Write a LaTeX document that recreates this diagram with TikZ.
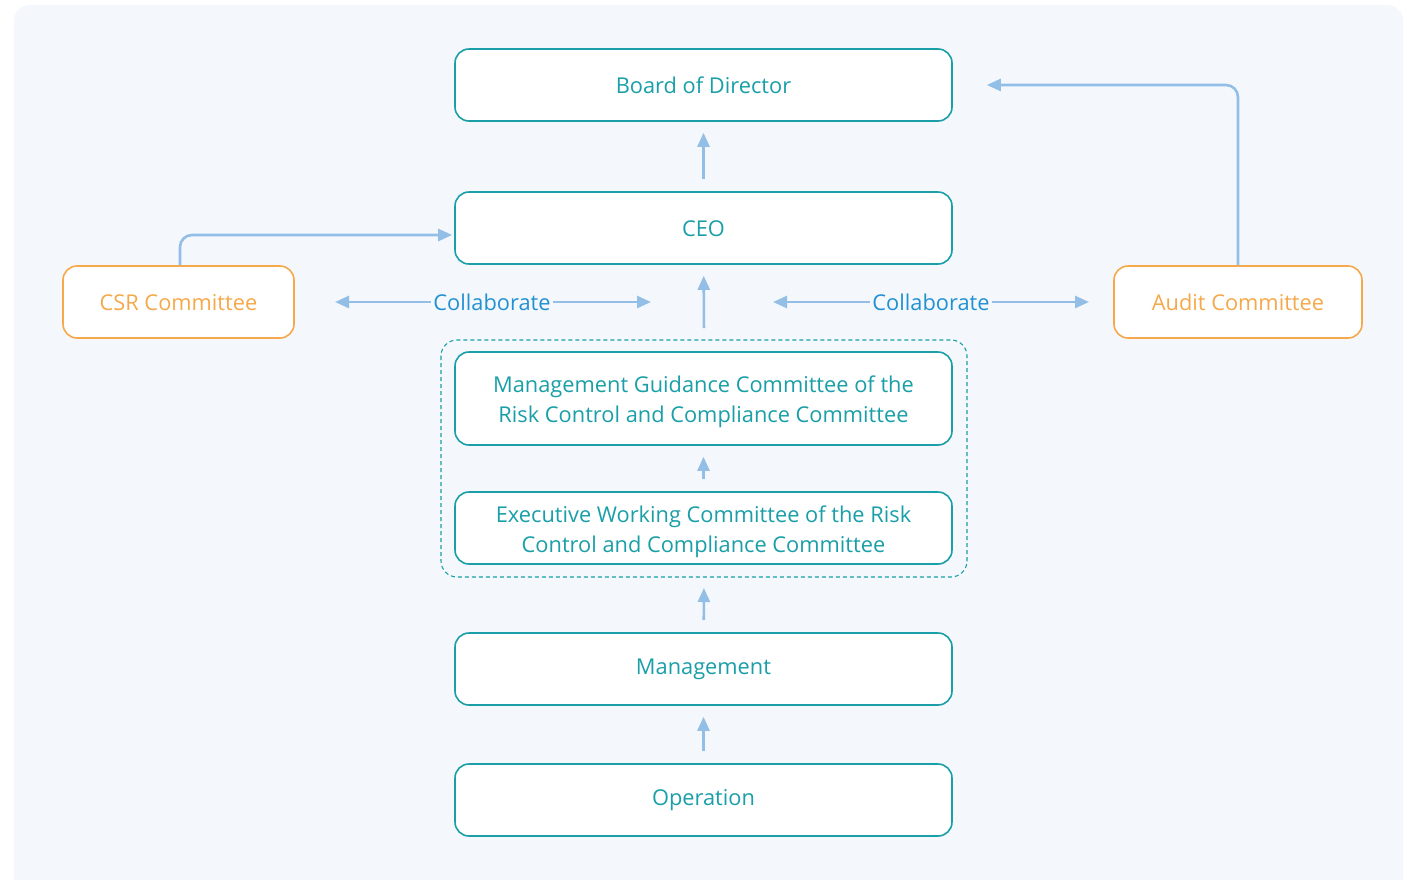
\documentclass[tikz,border=0pt]{standalone}
\usepackage{fontspec}
\setmainfont{Open Sans}
\usetikzlibrary{arrows.meta}

\definecolor{panel}{HTML}{F4F8FC}
\definecolor{teal}{HTML}{1A9FA8}
\definecolor{amber}{HTML}{F5A94A}
\definecolor{linkblue}{HTML}{93BFE6}
\definecolor{textblue}{HTML}{2191D2}

\tikzset{
    box/.style={draw=teal, line width=1.6pt, fill=white, rounded corners=14pt,
        minimum width=497pt, minimum height=72pt, inner sep=0pt,
        text=teal, align=center, font=\fontsize{21.8}{30}\selectfont},
    sidebox/.style={box, draw=amber, text=amber},
    link/.style={draw=linkblue, line width=2.6pt, -{Triangle[length=14pt,width=12pt]},
        shorten <=12pt, shorten >=11pt},
    collab/.style={text=textblue, font=\fontsize{21.8}{24}\selectfont, inner sep=2pt}
}

\begin{document}
\begin{tikzpicture}[x=1pt, y=-1pt]
    % Page and panel
    \useasboundingbox (0,0) rectangle (1413,879);
    \fill[white] (0,0) rectangle (1413,879);
    \fill[panel, rounded corners=16pt] (14,5) rectangle (1403,900);

    % Risk control group
    \draw[teal, line width=1.1pt, dash pattern=on 4pt off 3pt, rounded corners=16pt]
        (441,340) rectangle (967,577);
    \coordinate (grouptop) at (704,340);
    \coordinate (groupbot) at (704,577);

    % Main chain
    \node[box] (board) at (703.5,85) {\rule{0pt}{17pt}Board of Director};
    \node[box] (ceo) at (703.5,228) {\rule{0pt}{17pt}CEO};
    \node[box, minimum height=93pt] (guide) at (703.5,398.5)
        {\rule{0pt}{24pt}Management Guidance Committee of the\\Risk Control and Compliance Committee};
    \node[box] (exec) at (703.5,528)
        {\rule{0pt}{24pt}Executive Working Committee of the Risk\\Control and Compliance Committee};
    \node[box] (mgmt) at (703.5,669) {\rule{0pt}{16pt}Management};
    \node[box] (oper) at (703.5,800) {\rule{0pt}{16pt}Operation};

    % Side committees
    \node[sidebox, minimum width=231pt] (csr) at (178.5,302) {\rule{0pt}{17pt}CSR Committee};
    \node[sidebox, minimum width=248pt] (audit) at (1238,302) {\rule{0pt}{17pt}Audit Committee};

    % Reporting lines
    \draw[link] (oper) -- (mgmt);
    \draw[link] (mgmt) -- (groupbot);
    \draw[link] (exec) -- (guide);
    \draw[link] (grouptop) -- (ceo);
    \draw[link] (ceo) -- (board);
    \draw[link, shorten <=0pt, shorten >=2pt, rounded corners=12pt]
        (csr.north -| 180,0) |- (ceo.west |- 0,235);
    \draw[link, shorten <=0pt, shorten >=34pt, rounded corners=12pt]
        (audit.north) |- (board.east);

    % Collaboration
    \node[collab] (collabL) at (492,302) {Collaborate};
    \node[collab] (collabR) at (931,302) {Collaborate};
    \coordinate (cL1) at (335,302);
    \coordinate (cL2) at (651,302);
    \coordinate (cR1) at (773,302);
    \coordinate (cR2) at (1089,302);
    \foreach \lab/\a/\b in {collabL/cL1/cL2, collabR/cR1/cR2} {
        \draw[link, shorten <=0pt, shorten >=0pt] (\lab.west) -- (\a);
        \draw[link, shorten <=0pt, shorten >=0pt] (\lab.east) -- (\b);
    }
\end{tikzpicture}
\end{document}
